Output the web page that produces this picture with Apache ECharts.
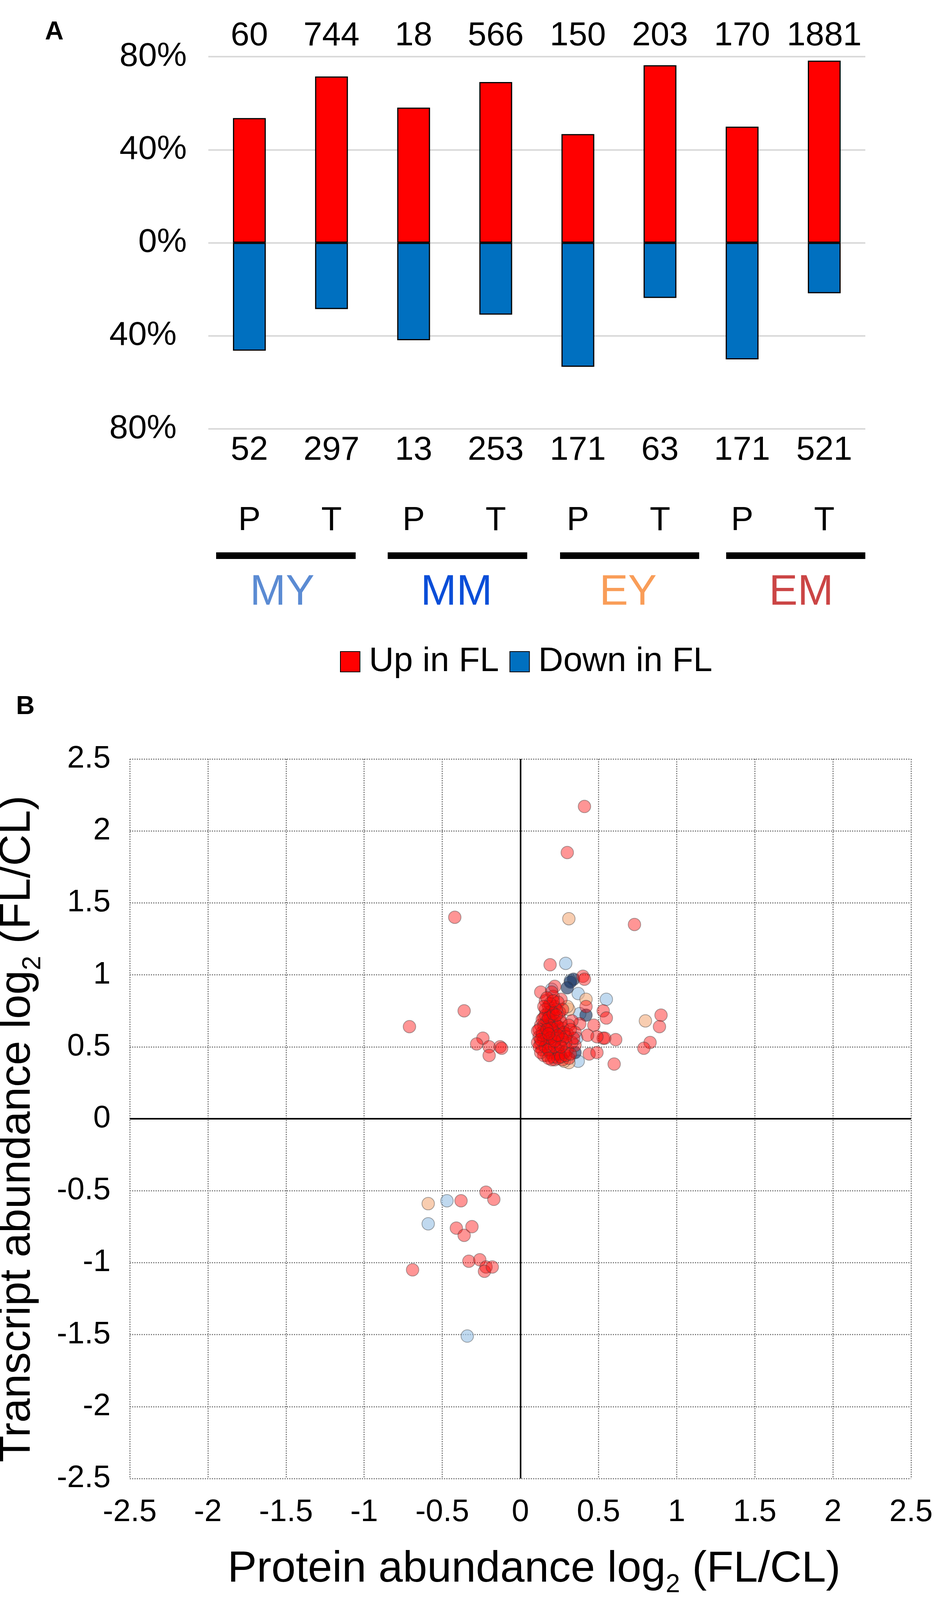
<!DOCTYPE html>
<html>
<head>
<meta charset="utf-8">
<script src="https://cdn.jsdelivr.net/npm/echarts@6/dist/echarts.min.js"></script>
<style>
  html, body { margin: 0; padding: 0; background: #fff; }
  #chart { width: 2400px; height: 4249px; }
</style>
</head>
<body>
<div id="chart"></div>
<script>
//  Panel A data

var cats = ['MY P', 'MY T', 'MM P', 'MM T', 'EY P', 'EY T', 'EM P', 'EM T'];
var stages = ['P', 'T', 'P', 'T', 'P', 'T', 'P', 'T'];
var upCounts = ['60', '744', '18', '566', '150', '203', '170', '1881'];
var downCounts = ['52', '297', '13', '253', '171', '63', '171', '521'];
var upPct = [53.6, 71.5, 58.1, 69.1, 46.7, 76.3, 49.9, 78.3];
var downPct = [-46.4, -28.5, -41.9, -30.9, -53.3, -23.7, -50.1, -21.7];
var groups = ['MY', 'MM', 'EY', 'EM'];
var groupColors = ['#5B8BD3', '#0A4ED8', '#F99D58', '#CB4545'];

//  Panel B data  [protein log2, transcript log2]

var myPts = [[0.29, 1.08], [0.32, 0.96], [0.37, 0.87], [0.55, 0.83], [0.38, 0.73],
  [0.20, 0.90], [0.36, 0.56], [0.37, 0.40], [-0.47, -0.57], [-0.59, -0.73], [-0.34, -1.51]];
var mmPts = [[0.34, 0.97], [0.32, 0.95], [0.30, 0.91], [0.42, 0.72], [0.35, 0.46]];
var eyPts = [[0.31, 1.39], [0.80, 0.68], [0.42, 0.83], [0.31, 0.76], [0.30, 0.78],
  [0.31, 0.39], [0.17, 0.44], [0.28, 0.40], [-0.59, -0.59]];
var emPts = [
  [0.41, 2.17], [0.30, 1.85], [-0.42, 1.40], [0.73, 1.35], [0.19, 1.07], [0.40, 0.99], [0.41, 0.97],
  [0.42, 0.78], [0.53, 0.75], [0.55, 0.70], [0.47, 0.65], [0.38, 0.66], [0.33, 0.68],
  [0.90, 0.72], [0.89, 0.64], [0.83, 0.53], [0.79, 0.49], [0.61, 0.55], [0.53, 0.56], [0.54, 0.56],
  [0.49, 0.57], [0.43, 0.58], [0.44, 0.45], [0.49, 0.46], [0.60, 0.38], [0.35, 0.51],
  [-0.36, 0.75], [-0.71, 0.64], [-0.24, 0.56], [-0.28, 0.52], [-0.20, 0.50], [-0.20, 0.44],
  [-0.13, 0.50], [-0.12, 0.49],
  [-0.38, -0.57], [-0.22, -0.51], [-0.17, -0.56], [-0.41, -0.76], [-0.36, -0.81], [-0.31, -0.75],
  [-0.33, -0.99], [-0.26, -0.98], [-0.22, -1.03], [-0.23, -1.06], [-0.18, -1.03], [-0.69, -1.05],
  [0.13, 0.88], [0.22, 0.92], [0.26, 0.83], [0.21, 0.85], [0.16, 0.82], [0.18, 0.78], [0.22, 0.78],
  [0.25, 0.74], [0.15, 0.70], [0.19, 0.71], [0.25, 0.70], [0.13, 0.65], [0.18, 0.65], [0.23, 0.65],
  [0.27, 0.63], [0.31, 0.65], [0.12, 0.57], [0.16, 0.60], [0.20, 0.57], [0.26, 0.57], [0.30, 0.59],
  [0.35, 0.60], [0.13, 0.52], [0.17, 0.53], [0.21, 0.53], [0.25, 0.52], [0.30, 0.48], [0.33, 0.53],
  [0.14, 0.48], [0.19, 0.46], [0.23, 0.45], [0.22, 0.41], [0.27, 0.41], [0.31, 0.42], [0.15, 0.44],
  [0.18, 0.74], [0.20, 0.88], [0.24, 0.81], [0.27, 0.76], [0.16, 0.76], [0.20, 0.67], [0.25, 0.61],
  [0.15, 0.55], [0.29, 0.53], [0.34, 0.56], [0.24, 0.48], [0.20, 0.41], [0.28, 0.46], [0.14, 0.69],
  [0.17, 0.68], [0.21, 0.61], [0.11, 0.53], [0.23, 0.57], [0.19, 0.52], [0.25, 0.45], [0.21, 0.43],
  [0.15, 0.65], [0.20, 0.75],
  [0.12, 0.62], [0.14, 0.60], [0.17, 0.57], [0.19, 0.63], [0.22, 0.68], [0.24, 0.64], [0.26, 0.67],
  [0.28, 0.60], [0.16, 0.72], [0.18, 0.70], [0.21, 0.73], [0.23, 0.76], [0.19, 0.80], [0.17, 0.84],
  [0.21, 0.82], [0.12, 0.50], [0.13, 0.46], [0.16, 0.50], [0.18, 0.48], [0.22, 0.50], [0.24, 0.42],
  [0.26, 0.43], [0.29, 0.44], [0.32, 0.45], [0.18, 0.42], [0.14, 0.58], [0.11, 0.61], [0.27, 0.55],
  [0.29, 0.57], [0.32, 0.62], [0.20, 0.63], [0.17, 0.62], [0.23, 0.72], [0.15, 0.78], [0.26, 0.50],
  [0.19, 0.56], [0.22, 0.54], [0.13, 0.55], [0.24, 0.58], [0.18, 0.59]
];

//  Layout bits (pixels)

var font = 'Liberation Sans';
var groupLineX = [[553, 910], [992, 1349], [1433, 1789], [1858, 2214]];
var groupLabelX = [722, 1168, 1607, 2050];

var graphics = [
  { type: 'text', left: 115, top: 50, style: { text: 'A', font: 'bold 66px "' + font + '"', fill: '#000' } },
  { type: 'text', left: 41, top: 1777, style: { text: 'B', font: 'bold 66px "' + font + '"', fill: '#000' } }
];
groupLineX.forEach(function(seg) {
  graphics.push({ type: 'rect', shape: { x: seg[0], y: 1414, width: seg[1] - seg[0], height: 17 }, style: { fill: '#000' } });
});
groups.forEach(function(g, i) {
  graphics.push({ type: 'text', x: groupLabelX[i], y: 1518,
    style: { text: g, font: '110px "' + font + '"', fill: groupColors[i], align: 'center', verticalAlign: 'middle' } });
});

var scatterStyle = function(color) {
  return { color: color, borderColor: 'rgba(60,60,60,0.55)', borderWidth: 2 };
};

var nameRich = {
  m: { fontSize: 112, lineHeight: 146, color: '#000', fontFamily: font },
  s: { fontSize: 66, lineHeight: 66, color: '#000', fontFamily: font, verticalAlign: 'bottom' }
};

var chart = echarts.init(document.getElementById('chart'), null, { renderer: 'canvas' });

var option = {
  animation: false,
  textStyle: { fontFamily: font },
  graphic: graphics,
  grid: [
    { left: 533, right: 186, top: 145, height: 953, outerBoundsMode: 'none', containLabel: false },
    { left: 332, right: 69, top: 1943, height: 1842, outerBoundsMode: 'none', containLabel: false }
  ],
  legend: [
    {
      data: ['Up in FL', 'Down in FL'],
      left: 865, top: 1645,
      icon: 'rect', itemWidth: 50, itemHeight: 52, itemGap: 27,
      textStyle: { fontSize: 88, color: '#000', padding: [0, 0, 0, 18] }
    },
    {
      data: ['MY', 'MM', 'EY', 'EM'],
      left: 843, top: 4146,
      icon: 'circle', itemWidth: 30, itemHeight: 30, itemGap: 32,
      textStyle: { fontSize: 112, color: '#000', padding: [0, 0, 0, 33] }
    }
  ],
  xAxis: [
    {
      type: 'category', gridIndex: 0, data: cats, position: 'bottom',
      axisLine: { show: false }, axisTick: { show: false },
      axisLabel: {
        interval: 0, margin: 10,
        formatter: function(v, i) { return '{c|' + downCounts[i] + '}\n{s|' + stages[i] + '}'; },
        rich: {
          c: { fontSize: 86, lineHeight: 90, color: '#000', fontFamily: font },
          s: { fontSize: 86, lineHeight: 270, color: '#000', fontFamily: font }
        }
      }
    },
    {
      type: 'category', gridIndex: 0, data: cats, position: 'top',
      axisLine: { show: false }, axisTick: { show: false },
      axisLabel: {
        interval: 0, margin: 10, fontSize: 86, color: '#000',
        formatter: function(v, i) { return upCounts[i]; }
      }
    },
    {
      type: 'value', gridIndex: 1, min: -2.5, max: 2.5, interval: 0.5,
      axisLine: { show: false }, axisTick: { show: false },
      axisLabel: { fontSize: 80, color: '#000', margin: 47 },
      splitLine: { show: true, lineStyle: { color: '#7f7f7f', width: 3, type: 'dotted' } },
      name: '{m|Protein abundance log}{s|2}{m| (FL/CL)}',
      nameLocation: 'middle', nameGap: 160,
      nameTextStyle: { rich: nameRich, padding: [0, 0, 0, 70] }
    }
  ],
  yAxis: [
    {
      type: 'value', gridIndex: 0, min: -80, max: 80, interval: 40,
      axisLine: { show: false }, axisTick: { show: false },
      axisLabel: {
        fontSize: 86, color: '#000', margin: 55,
        formatter: function(v) { return v < 0 ? '{n|' + (-v) + '%}' : v + '%'; },
        rich: { n: { fontSize: 86, color: '#000', fontFamily: font, padding: [0, 26, 0, 0] } }
      },
      splitLine: { show: true, lineStyle: { color: '#D9D9D9', width: 4 } }
    },
    {
      type: 'value', gridIndex: 1, min: -2.5, max: 2.5, interval: 0.5,
      axisLine: { show: false }, axisTick: { show: false },
      axisLabel: { fontSize: 80, color: '#000', margin: 49 },
      splitLine: { show: true, lineStyle: { color: '#7f7f7f', width: 3, type: 'dotted' } },
      name: '{m|Transcript abundance log}{s|2}{m| (FL/CL)}',
      nameLocation: 'middle', nameGap: 214,
      nameTextStyle: { rich: nameRich, padding: [0, 52, 0, 0] }
    }
  ],
  series: [
    {
      name: 'Up in FL', type: 'bar', xAxisIndex: 0, yAxisIndex: 0,
      data: upPct, barWidth: 84, barGap: '-100%',
      itemStyle: { color: '#FF0000', borderColor: '#000', borderWidth: 3 }
    },
    {
      name: 'Down in FL', type: 'bar', xAxisIndex: 0, yAxisIndex: 0,
      data: downPct, barWidth: 84, barGap: '-100%',
      itemStyle: { color: '#0070C0', borderColor: '#000', borderWidth: 3 }
    },
    {
      name: 'MY', type: 'scatter', xAxisIndex: 2, yAxisIndex: 1, data: myPts, symbolSize: 32,
      itemStyle: scatterStyle('rgba(157,195,230,0.8)'),
      markLine: {
        silent: true, symbol: 'none', label: { show: false },
        lineStyle: { color: '#000', width: 4, type: 'solid' },
        data: [{ xAxis: 0 }, { yAxis: 0 }]
      }
    },
    {
      name: 'MM', type: 'scatter', xAxisIndex: 2, yAxisIndex: 1, data: mmPts, symbolSize: 32,
      itemStyle: scatterStyle('rgba(31,56,100,0.8)')
    },
    {
      name: 'EY', type: 'scatter', xAxisIndex: 2, yAxisIndex: 1, data: eyPts, symbolSize: 32,
      itemStyle: scatterStyle('rgba(244,177,131,0.8)')
    },
    {
      name: 'EM', type: 'scatter', xAxisIndex: 2, yAxisIndex: 1, data: emPts, symbolSize: 32,
      itemStyle: scatterStyle('rgba(255,0,0,0.52)')
    }
  ]
};

chart.setOption(option);
</script>
</body>
</html>
